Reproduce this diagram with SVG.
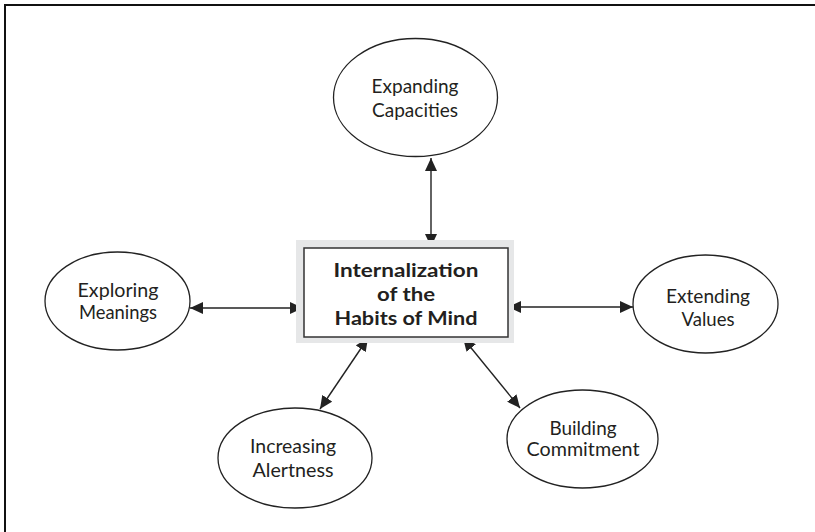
<svg xmlns="http://www.w3.org/2000/svg" width="815" height="532" viewBox="0 0 815 532">
<defs>
<marker id="ah" viewBox="0 0 13 12" refX="13" refY="6" markerWidth="13" markerHeight="12" markerUnits="userSpaceOnUse" orient="auto-start-reverse">
<path d="M0,0 L13,6 L0,12 Z" fill="#222"/>
</marker>
</defs>
<style>
.el{fill:#fff;stroke:#222;stroke-width:1.3}
.t{font-family:Lato,"Open Sans","Liberation Sans",sans-serif;font-size:19px;fill:#231f20;text-anchor:middle}
.tb{font-family:Lato,"Open Sans","Liberation Sans",sans-serif;font-size:19.5px;font-weight:bold;fill:#231f20;text-anchor:middle}
.c{stroke:#222;stroke-width:1.4;fill:none;marker-start:url(#ah);marker-end:url(#ah)}
</style>
<rect width="815" height="532" fill="#fff"/>
<path d="M5,532 L5,5 L815,5" fill="none" stroke="#111" stroke-width="2"/>
<g id="connectors">
<line class="c" x1="431" y1="158" x2="431" y2="247"/>
<line class="c" x1="190" y1="308" x2="303" y2="308"/>
<line class="c" x1="508" y1="307" x2="633" y2="307"/>
<line class="c" x1="368" y1="338" x2="320" y2="409"/>
<line class="c" x1="463" y1="338" x2="520" y2="408"/>
</g>
<g id="center">
<rect x="296" y="240" width="218" height="103" fill="#e6e7e8"/>
<rect x="304" y="248" width="204" height="89" fill="#fff" stroke="#333" stroke-width="1.5"/>
<text class="tb" x="406" y="277" textLength="145" lengthAdjust="spacingAndGlyphs">Internalization</text>
<text class="tb" x="406" y="301" textLength="58" lengthAdjust="spacingAndGlyphs">of the</text>
<text class="tb" x="406" y="325" textLength="143" lengthAdjust="spacingAndGlyphs">Habits of Mind</text>
</g>
<g id="expanding">
<ellipse class="el" cx="415.5" cy="97.5" rx="82" ry="59"/>
<text class="t" x="415" y="93" textLength="87" lengthAdjust="spacingAndGlyphs">Expanding</text>
<text class="t" x="415" y="117" textLength="86" lengthAdjust="spacingAndGlyphs">Capacities</text>
</g>
<g id="exploring">
<ellipse class="el" cx="117.5" cy="301" rx="72.5" ry="49"/>
<text class="t" x="118" y="297" textLength="81" lengthAdjust="spacingAndGlyphs">Exploring</text>
<text class="t" x="118" y="319" textLength="78" lengthAdjust="spacingAndGlyphs">Meanings</text>
</g>
<g id="extending">
<ellipse class="el" cx="705.5" cy="304" rx="72.5" ry="49"/>
<text class="t" x="708" y="303" textLength="84" lengthAdjust="spacingAndGlyphs">Extending</text>
<text class="t" x="708" y="326" textLength="53" lengthAdjust="spacingAndGlyphs">Values</text>
</g>
<g id="increasing">
<ellipse class="el" cx="295" cy="458" rx="77" ry="50"/>
<text class="t" x="293" y="453" textLength="86" lengthAdjust="spacingAndGlyphs">Increasing</text>
<text class="t" x="293" y="477" textLength="81" lengthAdjust="spacingAndGlyphs">Alertness</text>
</g>
<g id="building">
<ellipse class="el" cx="582.5" cy="439" rx="75.5" ry="49"/>
<text class="t" x="583" y="435" textLength="67" lengthAdjust="spacingAndGlyphs">Building</text>
<text class="t" x="583" y="456" textLength="113" lengthAdjust="spacingAndGlyphs">Commitment</text>
</g>
</svg>
